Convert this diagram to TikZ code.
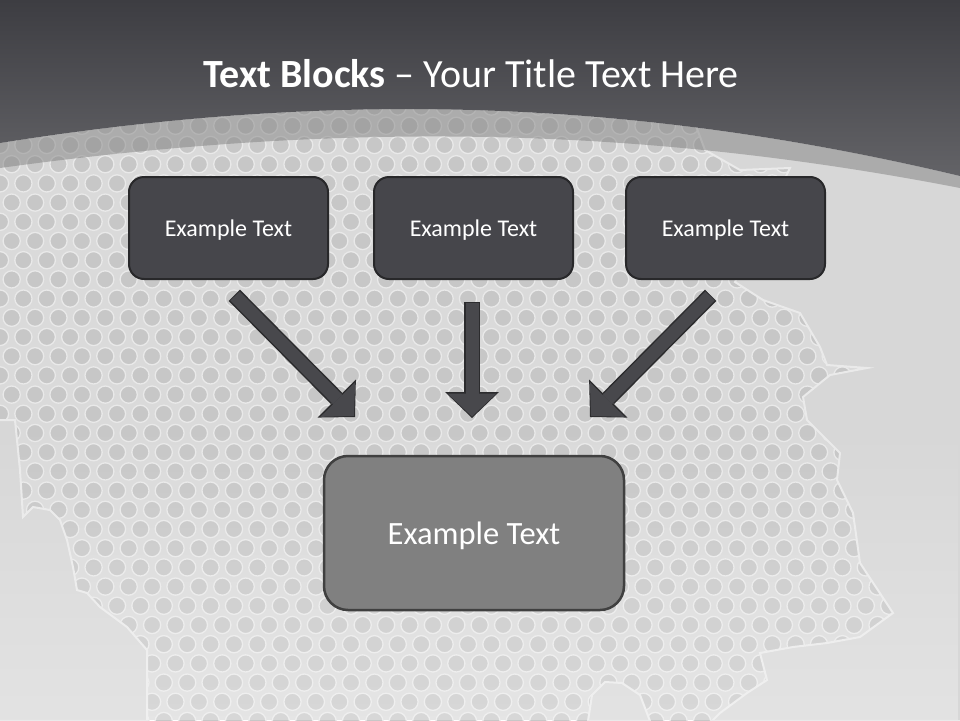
\documentclass[tikz,border=0pt]{standalone}
\usepackage{fontspec}
\setmainfont{Carlito}
\usetikzlibrary{positioning,arrows.meta,fadings}
\definecolor{topdark}{RGB}{61,61,66}
\definecolor{toplight}{RGB}{99,99,103}
\definecolor{plate}{RGB}{218,218,218}
\definecolor{hole}{RGB}{199,199,199}
\definecolor{holerim}{RGB}{233,233,233}
\definecolor{patch}{RGB}{215,215,215}
\definecolor{patchrim}{RGB}{234,234,234}
\definecolor{boxfill}{RGB}{70,70,75}
\definecolor{boxline}{RGB}{40,40,42}
\definecolor{resultfill}{RGB}{128,128,128}
\definecolor{resultline}{RGB}{64,64,64}
\definecolor{arrowfill}{RGB}{72,72,76}
\definecolor{arrowline}{RGB}{44,44,46}

\tikzset{
  srcbox/.style={rectangle,rounded corners=15pt,draw=boxline,line width=2pt,
    fill=boxfill,text=white,minimum width=199pt,minimum height=102pt,
    text depth=0pt,font=\fontsize{24}{28}\selectfont},
  resultbox/.style={rectangle,rounded corners=24pt,draw=resultline,line width=2.5pt,
    fill=resultfill,text=white,minimum width=300pt,minimum height=154pt,
    text depth=0pt,font=\fontsize{32.5}{38}\selectfont},
  blockarrow/.style={draw=arrowfill,line width=13pt,shorten >=1.5pt,
    -{Triangle[width=49pt,length=23pt,line width=0pt]},
    preaction={draw=arrowline,line width=16pt,shorten >=0pt,shorten <=-1pt,
      -{Triangle[width=54pt,length=26pt,line width=0pt]}}}
}

\begin{document}
\begin{tikzpicture}[x=1pt,y=-1pt]
\useasboundingbox (0,0) rectangle (960,720);

% perforated plate
\fill[plate] (0,0) rectangle (960,720);
\foreach \r in {0,...,32}
  \foreach \c in {0,...,41} {
    \pgfmathsetmacro\hx{23.4*\c+11.7*mod(\r,2)}
    \pgfmathsetmacro\hy{106.6+19.2*\r}
    \filldraw[fill=hole,draw=holerim,line width=1.3pt] (\hx,\hy) circle[radius=8.6pt];
  }

% torn patches
\filldraw[fill=patch,draw=patchrim,line width=2pt]
  (693,118) -- (705,150) -- (740,170) -- (790,168) -- (735,282) -- (763,300)
  -- (800,313) -- (820,347) -- (827,365) -- (867,368) -- (830,375) -- (803,397)
  -- (807,420) -- (840,453) -- (837,480) -- (853,513) -- (860,563) -- (893,613)
  -- (860,637) -- (827,643) -- (793,647) -- (760,653) -- (767,680) -- (747,693)
  -- (720,713) -- (712,721) -- (961,721) -- (961,150) -- cycle;
\filldraw[fill=patch,draw=patchrim,line width=2pt]
  (-1,420) -- (15,420) -- (20,470) -- (23,517) -- (33,507) -- (50,510)
  -- (60,520) -- (67,540) -- (73,567) -- (77,590) -- (87,593) -- (100,607)
  -- (127,627) -- (147,650) -- (147,721) -- (-1,721) -- cycle;
\filldraw[fill=patch,draw=patchrim,line width=2pt]
  (588,721) -- (592,695) -- (605,682) -- (622,683) -- (640,695) -- (650,721) -- cycle;
\fill[white,path fading=north,opacity=0.3] (0,420) rectangle (960,720);

% top band
\fill[black!50,opacity=0.5] (0,143) .. controls (320,92) and (620,95) .. (960,176)
  -- (960,188) .. controls (620,122) and (320,124) .. (0,168) -- cycle;
\shade[top color=topdark,bottom color=toplight] (0,0) -- (960,0) -- (960,176)
  .. controls (620,95) and (320,92) .. (0,143) -- cycle;

\node[text=white,font=\fontsize{40}{48}\selectfont,anchor=base] (title) at (471,87)
  {\textbf{Text Blocks} -- Your Title Text Here};

% blocks
\node[srcbox] (src1) at (228.5,228) {Example Text};
\node[srcbox] (src2) at (473.5,228) {Example Text};
\node[srcbox] (src3) at (725.5,228) {Example Text};
\node[resultbox] (result) at (474,533) {Example Text};

% arrows
\coordinate (out1) at (235,296);
\coordinate (in1) at (355,417);
\coordinate (out2) at (472,303);
\coordinate (in2) at (472,418);
\coordinate (out3) at (710,296);
\coordinate (in3) at (590,417);
\draw[blockarrow] (out1) -- (in1);
\draw[blockarrow] (out2) -- (in2);
\draw[blockarrow] (out3) -- (in3);
\end{tikzpicture}
\end{document}
